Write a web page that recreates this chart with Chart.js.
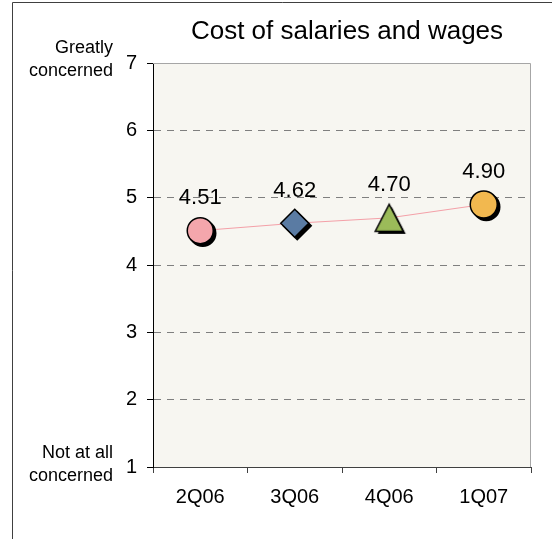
<!DOCTYPE html>
<html>
<head>
<meta charset="utf-8">
<script src="https://cdn.jsdelivr.net/npm/chart.js@4/dist/chart.umd.min.js"></script>
<style>
  html, body { margin: 0; padding: 0; background: #ffffff; }
  #wrap { width: 552px; height: 539px; position: relative; }
  canvas { display: block; }
</style>
</head>
<body>
<div id="wrap"><canvas id="c" width="552" height="539"></canvas></div>
<script>
const TITLE = 'Cost of salaries and wages';
const categories = ['2Q06', '3Q06', '4Q06', '1Q07'];
const values = [4.51, 4.62, 4.70, 4.90];
const valueLabels = ['4.51', '4.62', '4.70', '4.90'];
const yTickValues = [1, 2, 3, 4, 5, 6, 7];
const topAxisLabel = ['Greatly', 'concerned'];
const bottomAxisLabel = ['Not at all', 'concerned'];
const markerColors = ['#F4A6AC', '#5A7BA3', '#9BBB59', '#F2B84F'];

const FONT = "'Liberation Sans', Arial, Helvetica, sans-serif";

// custom triangle marker (bbox centred on the point, with its shadow)
function makeTriangle(fill) {
  const c = document.createElement('canvas');
  c.width = 38; c.height = 38;
  const g = c.getContext('2d');
  const cx = 19, cy = 19, w = 28, h = 27;
  const path = (dx, dy) => {
    g.beginPath();
    g.moveTo(cx + dx, cy - h / 2 + dy);
    g.lineTo(cx + w / 2 + dx, cy + h / 2 + dy);
    g.lineTo(cx - w / 2 + dx, cy + h / 2 + dy);
    g.closePath();
  };
  path(2.5, 2.5); g.fillStyle = '#000'; g.fill();
  path(0, 0); g.fillStyle = fill; g.fill();
  g.lineWidth = 1.5; g.strokeStyle = '#000'; g.lineJoin = 'miter'; g.stroke();
  return c;
}
const markerStyles = ['circle', 'rectRot', makeTriangle(markerColors[2]), 'circle'];
const markerRadii = [13, 14, 14, 13.5];

const framePlugin = {
  id: 'framePlugin',
  beforeDraw(chart) {
    const { ctx, chartArea: a } = chart;
    ctx.save();
    ctx.fillStyle = '#F7F6F1';
    ctx.fillRect(a.left, a.top, a.right - a.left, a.bottom - a.top);
    ctx.restore();
  },
  afterDraw(chart) {
    const { ctx, chartArea: a } = chart;
    ctx.save();
    // plot area top/right border
    ctx.strokeStyle = '#A6A6A6';
    ctx.lineWidth = 1;
    ctx.beginPath();
    ctx.moveTo(a.left, a.top + 0.5);
    ctx.lineTo(a.right - 0.5, a.top + 0.5);
    ctx.lineTo(a.right - 0.5, a.bottom);
    ctx.stroke();
    // outer frame
    ctx.strokeStyle = '#404040';
    ctx.beginPath();
    ctx.moveTo(12.5, 539);
    ctx.lineTo(12.5, 2.5);
    ctx.lineTo(552, 2.5);
    ctx.stroke();
    // title
    ctx.fillStyle = '#000';
    ctx.font = '26px ' + FONT;
    ctx.textAlign = 'center';
    ctx.textBaseline = 'alphabetic';
    ctx.fillText(TITLE, 347, 39);
    // y axis end labels
    ctx.font = '18px ' + FONT;
    ctx.textAlign = 'right';
    const ys = chart.scales.y;
    const yTop = ys.getPixelForValue(7), yBot = ys.getPixelForValue(1);
    ctx.fillText(topAxisLabel[0], 113, yTop - 10);
    ctx.fillText(topAxisLabel[1], 113, yTop + 13);
    ctx.fillText(bottomAxisLabel[0], 113, yBot - 9);
    ctx.fillText(bottomAxisLabel[1], 113, yBot + 14);
    // value labels
    ctx.font = '22px ' + FONT;
    ctx.textAlign = 'center';
    const meta = chart.getDatasetMeta(0);
    meta.data.forEach((pt, i) => {
      ctx.fillText(valueLabels[i], pt.x, pt.y - 26.5);
    });
    ctx.restore();
  },
  beforeDatasetDraw(chart, args) {
    if (args.index !== 0) return;
    const ctx = chart.ctx;
    args.meta.data.forEach((pt) => {
      const o = pt.options;
      if (typeof o.pointStyle !== 'string') return;
      ctx.save();
      ctx.fillStyle = '#000';
      ctx.strokeStyle = '#000';
      ctx.lineWidth = o.borderWidth;
      Chart.helpers.drawPoint(ctx, {
        pointStyle: o.pointStyle, radius: o.radius, rotation: o.rotation || 0, borderWidth: o.borderWidth
      }, pt.x + 2.5, pt.y + 2.5);
      ctx.restore();
    });
  }
};

new Chart(document.getElementById('c'), {
  type: 'line',
  data: {
    labels: categories,
    datasets: [
      {
        data: values,
        order: 0,
        showLine: false,
        pointStyle: markerStyles,
        pointRadius: markerRadii,
        pointHoverRadius: markerRadii,
        pointBackgroundColor: markerColors,
        pointBorderColor: '#000000',
        pointBorderWidth: 1.5
      },
      {
        data: values,
        order: 1,
        borderColor: '#F4A0A8',
        borderWidth: 1,
        pointRadius: 0,
        fill: false,
        tension: 0
      }
    ]
  },
  options: {
    responsive: false,
    animation: false,
    devicePixelRatio: 1,
    layout: { padding: { left: 0, right: 21, top: 63, bottom: 0 } },
    plugins: {
      legend: { display: false },
      tooltip: { enabled: false },
      title: { display: false }
    },
    scales: {
      x: {
        type: 'category',
        offset: true,
        grid: {
          offset: true,
          drawOnChartArea: false,
          drawTicks: true,
          tickLength: 6,
          tickColor: '#404040',
          tickWidth: 1
        },
        border: { display: true, color: '#404040', width: 1 },
        ticks: {
          font: { size: 20, family: FONT },
          color: '#000',
          padding: 12,
          maxRotation: 0,
          autoSkip: false
        },
        afterFit(s) { s.height = 72; }
      },
      y: {
        min: 1,
        max: 7,
        afterBuildTicks(s) { s.ticks = yTickValues.map(v => ({ value: v })); },
        ticks: {
          font: { size: 20, family: FONT },
          color: '#000',
          padding: 10,
          callback: (v) => String(v)
        },
        grid: {
          color: (c) => (c.tick && c.tick.value > 1 && c.tick.value < 7) ? '#7F7F7F' : 'rgba(0,0,0,0)',
          lineWidth: 1,
          tickLength: 6,
          tickColor: '#000',
          tickWidth: 1,
          tickBorderDash: []
        },
        border: { display: true, color: '#000', width: 1, dash: [7, 6] },
        afterFit(s) { s.width = 153; }
      }
    }
  },
  plugins: [framePlugin]
});
</script>
</body>
</html>
